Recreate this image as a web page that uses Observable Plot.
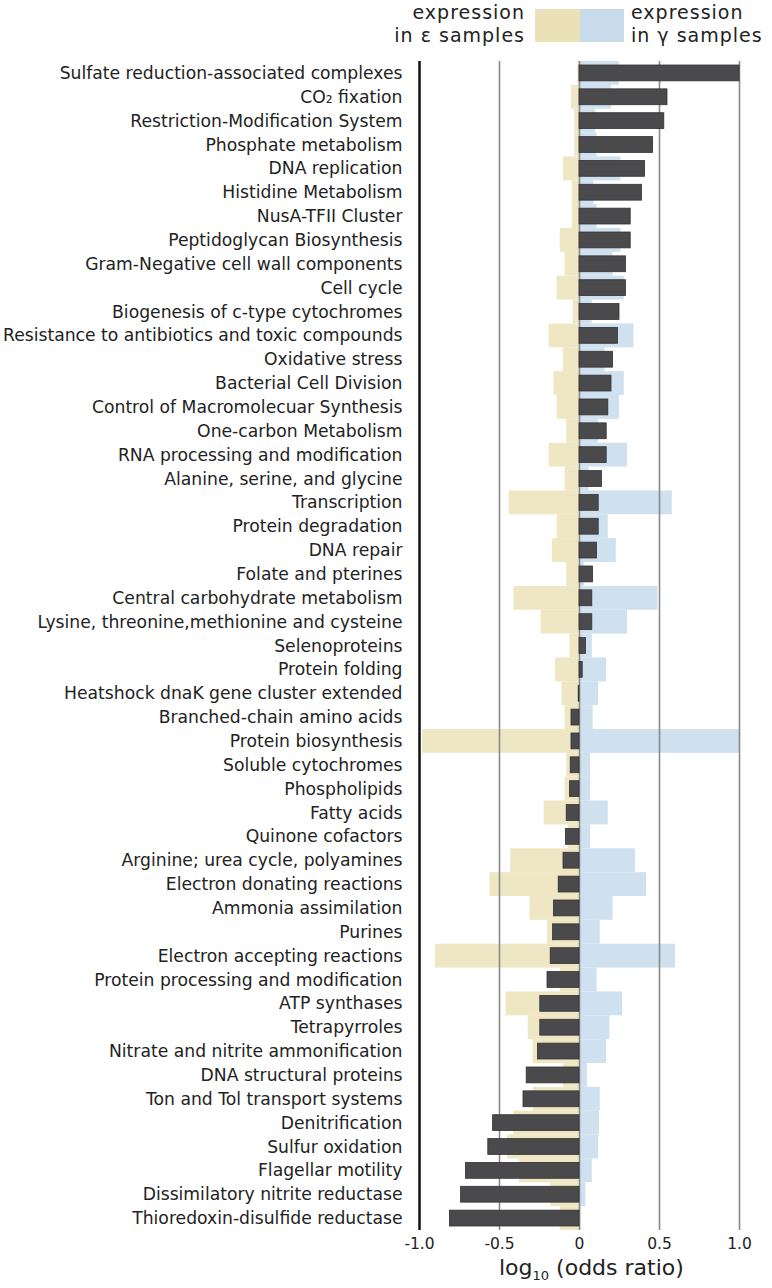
<!DOCTYPE html>
<html>
<head>
<meta charset="utf-8">
<script src="https://cdn.jsdelivr.net/npm/d3@7"></script>
<script src="https://cdn.jsdelivr.net/npm/@observablehq/plot@0.6"></script>
<style>
  html, body { margin: 0; padding: 0; background: #fff; }
  body { width: 772px; height: 1288px; position: relative; overflow: hidden; font-family: "DejaVu Sans", sans-serif; color: #222; }
  #legend { position: relative; height: 54px; }
  .ltext { position: absolute; font-size: 19px; line-height: 23px; letter-spacing: 1px; white-space: nowrap; }
  .l1 { top: 1px; }
  .l2 { top: 23.5px; }
  .sw { position: absolute; top: 9px; height: 33px; }
  #caption { position: absolute; left: 499px; top: 1255px; font-size: 22px; line-height: 26px; white-space: nowrap; }
  #caption sub { font-size: 13px; line-height: 0; }
</style>
</head>
<body>
<div id="legend">
  <div class="ltext l1" style="right: 247px; text-align: right;">expression</div>
  <div class="ltext l2" style="right: 247px; text-align: right;">in ε samples</div>
  <div class="sw" style="left: 535px; width: 45px; background: #ebe1b8;"></div>
  <div class="sw" style="left: 580px; width: 44px; background: #c8dbeb;"></div>
  <div class="ltext l1" style="left: 631px;">expression</div>
  <div class="ltext l2" style="left: 631px;">in γ samples</div>
</div>
<div id="chart"></div>
<div id="caption">log<sub>10</sub> (odds ratio)</div>
<script>
const categories = [
  "Sulfate reduction-associated complexes",
  "CO₂ fixation",
  "Restriction-Modification System",
  "Phosphate metabolism",
  "DNA replication",
  "Histidine Metabolism",
  "NusA-TFII Cluster",
  "Peptidoglycan Biosynthesis",
  "Gram-Negative cell wall components",
  "Cell cycle",
  "Biogenesis of c-type cytochromes",
  "Resistance to antibiotics and toxic compounds",
  "Oxidative stress",
  "Bacterial Cell Division",
  "Control of Macromolecuar Synthesis",
  "One-carbon Metabolism",
  "RNA processing and modification",
  "Alanine, serine, and glycine",
  "Transcription",
  "Protein degradation",
  "DNA repair",
  "Folate and pterines",
  "Central carbohydrate metabolism",
  "Lysine, threonine,methionine and cysteine",
  "Selenoproteins",
  "Protein folding",
  "Heatshock dnaK gene cluster extended",
  "Branched-chain amino acids",
  "Protein biosynthesis",
  "Soluble cytochromes",
  "Phospholipids",
  "Fatty acids",
  "Quinone cofactors",
  "Arginine; urea cycle, polyamines",
  "Electron donating reactions",
  "Ammonia assimilation",
  "Purines",
  "Electron accepting reactions",
  "Protein processing and modification",
  "ATP synthases",
  "Tetrapyrroles",
  "Nitrate and nitrite ammonification",
  "DNA structural proteins",
  "Ton and Tol transport systems",
  "Denitrification",
  "Sulfur oxidation",
  "Flagellar motility",
  "Dissimilatory nitrite reductase",
  "Thioredoxin-disulfide reductase"
];

// log10 odds ratio (dark bars)
const oddsRatio = [
  1.0, 0.55, 0.53, 0.46, 0.41, 0.39, 0.32, 0.32, 0.29, 0.29,
  0.25, 0.24, 0.21, 0.20, 0.18, 0.17, 0.17, 0.14, 0.12, 0.12,
  0.11, 0.085, 0.08, 0.08, 0.04, 0.02, -0.005, -0.05, -0.05, -0.055,
  -0.06, -0.08, -0.085, -0.10, -0.13, -0.16, -0.165, -0.18, -0.20, -0.245,
  -0.245, -0.26, -0.33, -0.35, -0.54, -0.57, -0.71, -0.74, -0.81
];

// expression in epsilon samples (drawn to the left)
const epsExpr = [
  -0.01, -0.05, -0.03, -0.03, -0.10, -0.045, -0.045, -0.12, -0.09, -0.14,
  -0.04, -0.19, -0.10, -0.16, -0.14, -0.08, -0.19, -0.09, -0.44, -0.14,
  -0.17, -0.08, -0.41, -0.24, -0.06, -0.15, -0.11, -0.09, -0.98, -0.08,
  -0.09, -0.22, -0.07, -0.43, -0.56, -0.31, -0.20, -0.90, -0.12, -0.46,
  -0.32, -0.29, -0.10, -0.29, -0.41, -0.45, -0.375, -0.18, -0.12
];

// expression in gamma samples (drawn to the right)
const gamExpr = [
  0.25, 0.20, 0.10, 0.11, 0.26, 0.09, 0.11, 0.26, 0.21, 0.28,
  0.08, 0.34, 0.16, 0.28, 0.25, 0.12, 0.30, 0.06, 0.58, 0.18,
  0.23, 0.03, 0.49, 0.30, 0.08, 0.17, 0.12, 0.085, 1.0, 0.07,
  0.07, 0.18, 0.07, 0.35, 0.42, 0.21, 0.13, 0.60, 0.11, 0.27,
  0.19, 0.17, 0.05, 0.13, 0.125, 0.12, 0.08, 0.04, 0.01
];

const xTicks = [-1, -0.5, 0, 0.5, 1];
const gridValues = [-0.5, 0.5, 1];

const rows = categories.map((c, i) => ({cat: c, ratio: oddsRatio[i], eps: epsExpr[i], gam: gamExpr[i]}));

const plot = Plot.plot({
  width: 772,
  height: 1201,
  marginLeft: 419,
  marginRight: 33,
  marginTop: 7,
  marginBottom: 25,
  style: {fontFamily: "DejaVu Sans, sans-serif", color: "#222", background: "#fff"},
  x: {domain: [-1, 1], label: null},
  y: {domain: categories, padding: 0, label: null},
  marks: [
    Plot.barX(rows, {y: "cat", x1: 0, x2: "eps", fill: "#efe6c3"}),
    Plot.barX(rows, {y: "cat", x1: 0, x2: "gam", fill: "#cfe0ee"}),
    Plot.ruleX(gridValues, {stroke: "#8a8a8a", strokeWidth: 1.6}),
    Plot.ruleX([0], {stroke: "#8a8a8a", strokeWidth: 1.6}),
    Plot.barX(rows, {y: "cat", x1: 0, x2: "ratio", fill: "#4a494c", stroke: "#333", strokeWidth: 0.8, insetTop: 4, insetBottom: 4}),
    Plot.ruleX([-1], {stroke: "#111", strokeWidth: 2.5}),
    Plot.axisY({tickSize: 0, tickPadding: 17, fontSize: 17.2, label: null}),
    Plot.axisX({ticks: xTicks, tickSize: 0, tickPadding: 7, fontSize: 15.5, label: null,
      tickFormat: d => d === 0 ? "0" : d.toFixed(1)})
  ]
});
document.getElementById("chart").appendChild(plot);
</script>
</body>
</html>
